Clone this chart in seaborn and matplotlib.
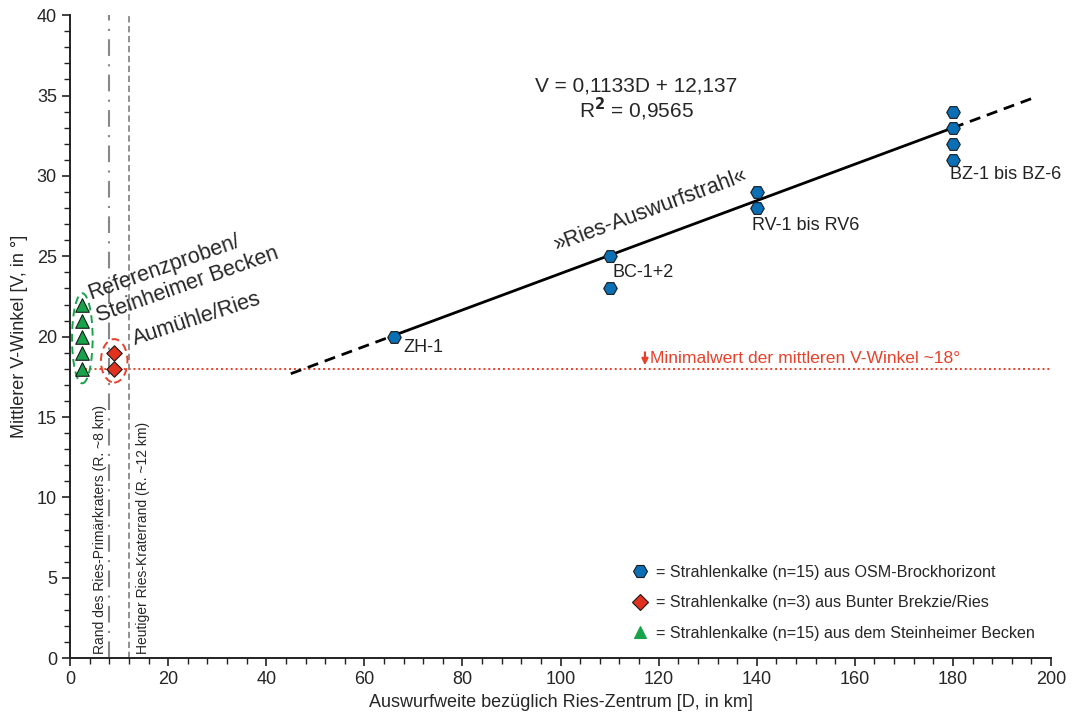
import numpy as np
import pandas as pd
import seaborn as sns
import matplotlib.pyplot as plt
from matplotlib.patches import Ellipse
from matplotlib.lines import Line2D

# Daten
osm_x = [66, 110, 110, 140, 140, 180, 180, 180, 180]
osm_y = [20, 25, 23, 29, 28, 34, 33, 32, 31]
bunt_x = [9, 9]
bunt_y = [19, 18]
stein_x = [2.5, 2.5, 2.5, 2.5, 2.5]
stein_y = [22, 21, 20, 19, 18]

gruppen = ["osm", "bunt", "stein"]
legend_labels = [
    "= Strahlenkalke (n=15) aus OSM-Brockhorizont",
    "= Strahlenkalke (n=3) aus Bunter Brekzie/Ries",
    "= Strahlenkalke (n=15) aus dem Steinheimer Becken",
]

# Trendlinie (gezeichnet)
slope = 0.1133
intercept = 12.6
trend_solid = [66, 180]
trend_dash_left = [45, 66]
trend_dash_right = [180, 196.5]

proben_labels = ["ZH-1", "BC-1+2", "RV-1 bis RV6", "BZ-1 bis BZ-6"]
proben_pos = [(68, 19.3), (110.5, 24.0), (139, 26.9), (179.3, 30.1)]

farben = {"osm": "#0b6fb5", "bunt": "#e0321f", "stein": "#17a34a"}
marker = {"osm": "H", "bunt": "D", "stein": "^"}
groesse = {"osm": 95, "bunt": 62, "stein": 95}
rot = "#e8402a"

df = pd.concat([
    pd.DataFrame({"D": osm_x, "V": osm_y, "gruppe": "osm"}),
    pd.DataFrame({"D": bunt_x, "V": bunt_y, "gruppe": "bunt"}),
    pd.DataFrame({"D": stein_x, "V": stein_y, "gruppe": "stein"}),
])

sns.set_theme(style="ticks")
plt.rcParams["font.family"] = ["Liberation Sans", "DejaVu Sans"]

fig = plt.figure(figsize=(10.78, 7.21), dpi=100)
ax = fig.add_axes([0.065, 0.087, 0.91, 0.892])

# Linien
ax.axhline(18, xmin=2 / 200, color=rot, lw=1.4, ls=(0, (1, 1.5)), zorder=1)
ax.axvline(8, color="#888888", lw=1.5, ls=(0, (8, 4, 1, 4)), zorder=1)
ax.axvline(12, color="#888888", lw=1.3, ls=(0, (3.5, 2)), zorder=1)

f = lambda x: slope * np.array(x) + intercept
ax.plot(trend_solid, f(trend_solid), color="black", lw=2, zorder=2)
ax.plot(trend_dash_left, f(trend_dash_left), color="black", lw=2, ls=(0, (4, 2.5)), zorder=2)
ax.plot(trend_dash_right, f(trend_dash_right), color="black", lw=2, ls=(0, (4, 2.5)), zorder=2)

# Punkte
for g in gruppen:
    sub = df[df["gruppe"] == g]
    sns.scatterplot(data=sub, x="D", y="V", ax=ax, color=farben[g], marker=marker[g],
                    s=groesse[g], edgecolor="#1a1a1a", linewidth=0.8,
                    zorder=4, legend=False)

# Ellipsen
ax.add_patch(Ellipse((2.5, 19.9), 4.2, 5.6, fill=False, ec=farben["stein"], lw=1.4,
                     ls=(0, (4, 2.5)), zorder=3))
ax.add_patch(Ellipse((9, 18.5), 5.4, 2.7, fill=False, ec=rot, lw=1.4,
                     ls=(0, (4, 2.5)), zorder=3))

# Texte
for lab, (x, y) in zip(proben_labels, proben_pos):
    ax.text(x, y, lab, fontsize=13, color="#222222", ha="left", va="center")

ax.text(115.4, 35.6, "V = 0,1133D + 12,137", fontsize=15, ha="center", va="center")
ax.text(115.4, 34.15, "R$^\\mathbf{2}$ = 0,9565", fontsize=15, ha="center", va="center")
ax.text(99, 25.3, "»Ries-Auswurfstrahl«", fontsize=15.5, rotation=20.3,
        rotation_mode="anchor", ha="left", va="baseline")
ax.text(4.2, 22.3, "Referenzproben/", fontsize=15.5, rotation=19.5,
        rotation_mode="anchor", ha="left", va="baseline")
ax.text(5.9, 20.9, "Steinheimer Becken", fontsize=15.5, rotation=19.5,
        rotation_mode="anchor", ha="left", va="baseline")
ax.text(13.2, 19.5, "Aumühle/Ries", fontsize=15.5, rotation=18,
        rotation_mode="anchor", ha="left", va="baseline")

ax.text(6.2, 0.25, "Rand des Ries-Primärkraters (R. ~8 km)", fontsize=10,
        rotation=90, ha="center", va="bottom")
ax.text(14.8, 0.25, "Heutiger Ries-Kraterrand (R. ~12 km)", fontsize=10,
        rotation=90, ha="center", va="bottom")

ax.annotate("", xy=(117.2, 18.05), xytext=(117.2, 19.2),
            arrowprops=dict(arrowstyle="-|>", color=rot, lw=1.6, mutation_scale=9))
ax.text(118.2, 18.35, "Minimalwert der mittleren V-Winkel ~18°", fontsize=12.6,
        color=rot, ha="left", va="baseline")

# Legende
handles = [Line2D([], [], ls="none", marker=marker[g], markerfacecolor=farben[g],
                  markeredgecolor="#1a1a1a", markeredgewidth=0.8,
                  markersize={"osm": 10, "bunt": 8, "stein": 8}[g])
           for g in gruppen]
handles[2].set_markeredgecolor(farben["stein"])
ax.legend(handles, legend_labels, loc="lower right", bbox_to_anchor=(0.998, 0.005),
          frameon=False, fontsize=11.6, handletextpad=0.45, labelspacing=0.95,
          handlelength=1.0)

# Achsen
ax.set_xlim(0, 200)
ax.set_ylim(0, 40)
ax.set_xticks(np.arange(0, 201, 20))
ax.set_xticks(np.arange(0, 201, 4), minor=True)
ax.set_yticks(np.arange(0, 41, 5))
ax.set_yticks(np.arange(0, 41, 1), minor=True)
ax.tick_params(axis="both", which="major", labelsize=13, length=6, width=1.2, color="#222222")
ax.tick_params(axis="both", which="minor", length=4, width=1.0, color="#222222")
ax.set_xlabel("Auswurfweite bezüglich Ries-Zentrum [D, in km]", fontsize=13, labelpad=4)
ax.set_ylabel("Mittlerer V-Winkel [V, in °]", fontsize=13, labelpad=6)
for s in ["top", "right"]:
    ax.spines[s].set_visible(False)
for s in ["left", "bottom"]:
    ax.spines[s].set_linewidth(1.4)
    ax.spines[s].set_color("#222222")

fig.savefig("out.png", dpi=100)
